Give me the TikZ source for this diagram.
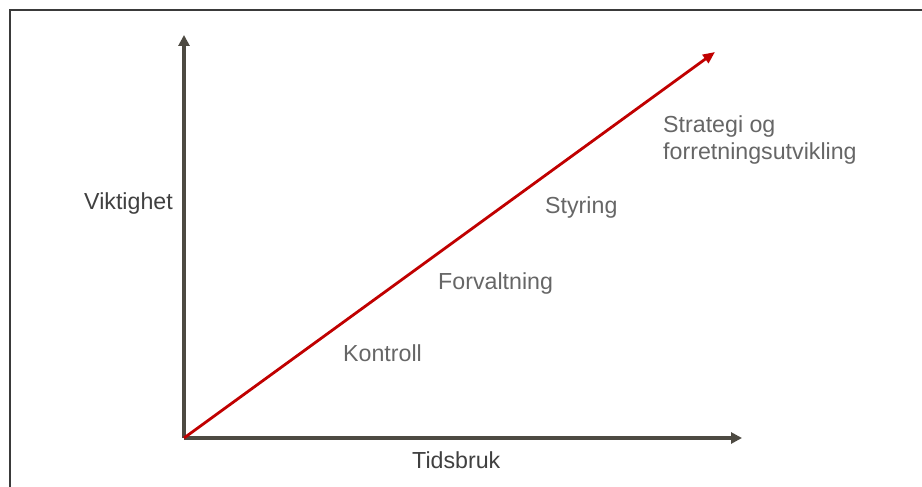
\documentclass[tikz,border=0pt]{standalone}
\usepackage{fontspec}
\setmainfont{Liberation Sans}
\usetikzlibrary{arrows.meta}
\definecolor{axisgray}{HTML}{4D4A42}
\definecolor{framegray}{HTML}{3A3A3A}
\definecolor{labelgray}{HTML}{666666}
\definecolor{titlegray}{HTML}{404040}
\definecolor{trendred}{HTML}{C00000}
\tikzset{
  axis/.style={draw=axisgray, line width=3.2pt, -{Triangle[length=11pt,width=11pt]}},
  trend/.style={draw=trendred, line width=2.8pt, -{Triangle[length=12pt,width=10pt]}},
  axislabel/.style={anchor=base west, inner sep=0pt, text=titlegray, font=\fontsize{23.2}{28}\selectfont},
  stagelabel/.style={anchor=base west, inner sep=0pt, text=labelgray, font=\fontsize{23.2}{28}\selectfont, align=left},
}
\begin{document}
\begin{tikzpicture}[x=1pt,y=-1pt]
  \useasboundingbox (0,0) rectangle (922,487);
  % partial frame
  \draw[framegray, line width=1.6pt] (10,487) -- (10,10) -- (922,10);
  % axes
  \coordinate (o) at (184,438);
  \coordinate (ytop) at (184,35);
  \coordinate (xend) at (742,438);
  \coordinate (tip) at (715,52);
  \draw[axis] (o) -- (ytop);
  \draw[axis] (o) -- (xend);
  \draw[trend] (o) -- (tip);
  % labels
  \node[axislabel] (yl) at (84,209) {Viktighet};
  \node[axislabel] (xl) at (412,468) {Tidsbruk};
  \node[stagelabel] (s1) at (343,361) {Kontroll};
  \node[stagelabel] (s2) at (438,289) {Forvaltning};
  \node[stagelabel] (s3) at (545,213) {Styring};
  \node[stagelabel] (s4) at (663,132) {Strategi og};
  \node[stagelabel] (s5) at (663,159) {forretningsutvikling};
\end{tikzpicture}
\end{document}
